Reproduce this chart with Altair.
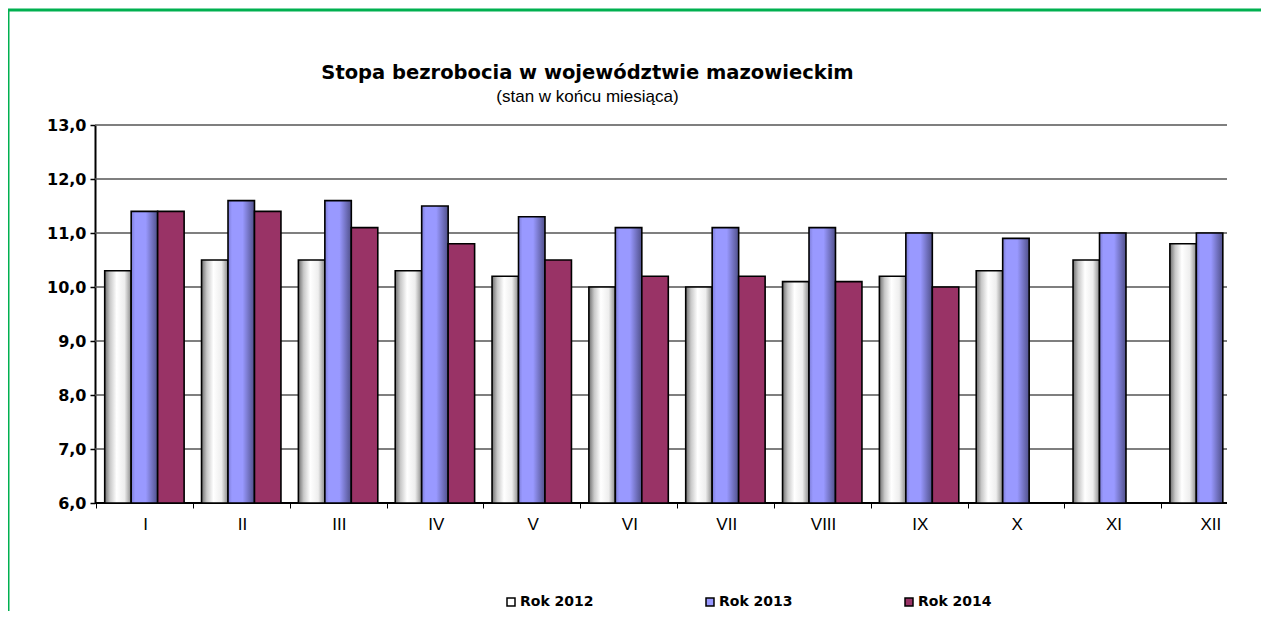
import altair as alt
import pandas as pd

months = ["I", "II", "III", "IV", "V", "VI", "VII", "VIII", "IX", "X", "XI", "XII"]
years = ["Rok 2012", "Rok 2013", "Rok 2014"]
rate_2012 = [10.3, 10.5, 10.5, 10.3, 10.2, 10.0, 10.0, 10.1, 10.2, 10.3, 10.5, 10.8]
rate_2013 = [11.4, 11.6, 11.6, 11.5, 11.3, 11.1, 11.1, 11.1, 11.0, 10.9, 11.0, 11.0]
rate_2014 = [11.4, 11.4, 11.1, 10.8, 10.5, 10.2, 10.2, 10.1, 10.0]
y_ticks = [6, 7, 8, 9, 10, 11, 12, 13]
title_text = "Stopa bezrobocia w województwie mazowieckim"
subtitle_text = "(stan w końcu miesiąca)"

rows = []
for yr, vals in zip(years, [rate_2012, rate_2013, rate_2014]):
    for m, v in zip(months, vals):
        rows.append({"month": m, "year": yr, "value": v})
df = pd.DataFrame(rows)
ticks_df = pd.DataFrame({"tick": y_ticks})

grad12 = {"gradient": "linear", "x1": 0, "y1": 0, "x2": 1, "y2": 0,
          "stops": [{"offset": 0, "color": "#6e6e6e"},
                    {"offset": 0.2, "color": "#c8c8c8"},
                    {"offset": 0.45, "color": "#ffffff"},
                    {"offset": 0.75, "color": "#eeeeee"},
                    {"offset": 1, "color": "#8a8a8a"}]}
grad13 = {"gradient": "linear", "x1": 0, "y1": 0, "x2": 1, "y2": 0,
          "stops": [{"offset": 0, "color": "#7c7cd6"},
                    {"offset": 0.15, "color": "#9999ff"},
                    {"offset": 0.55, "color": "#9999ff"},
                    {"offset": 1, "color": "#50508a"}]}

y_scale = alt.Scale(domain=[6, 13], zero=False, nice=False)

border = alt.Chart(pd.DataFrame({"k": [0]})).mark_rect(
    fill="transparent", stroke="#00b050", strokeWidth=3
).encode(
    x=alt.value(-87), x2=alt.value(1400), y=alt.value(-115), y2=alt.value(700)
)

grid = alt.Chart(ticks_df).mark_rule().encode(
    y=alt.Y("tick:Q", scale=y_scale),
    x=alt.value(0),
    x2=alt.value(1132),
    color=alt.condition("datum.tick === 6", alt.value("black"), alt.value("#555555")),
    strokeWidth=alt.condition("datum.tick === 6", alt.value(2), alt.value(1.5)),
)

bars = alt.Chart(df).mark_bar(stroke="black", strokeWidth=1.6).encode(
    x=alt.X("month:N", sort=months,
            scale=alt.Scale(domain=months, range=[1, 1163], paddingInner=0.18, paddingOuter=0.09),
            axis=alt.Axis(title=None, domain=False, ticks=True, tickColor="black", tickSize=5,
                          tickWidth=1, bandPosition=0, tickOffset=-8.7, labelOffset=9.5,
                          labelFont="Liberation Sans", labelFontSize=17, labelColor="black",
                          labelPadding=8, grid=False, labelAngle=0)),
    xOffset=alt.XOffset("year:N", scale=alt.Scale(domain=years, paddingInner=0, paddingOuter=0)),
    y=alt.Y("value:Q", scale=y_scale,
            axis=alt.Axis(title=None, values=y_ticks,
                          labelExpr="replace(format(datum.value, '.1f'), '.', ',')",
                          domainColor="black", domainWidth=2, tickColor="black", tickSize=5,
                          tickWidth=1.5, labelFont="DejaVu Sans", labelFontWeight="bold",
                          labelFontSize=16, labelColor="black", labelPadding=4, grid=False)),
    y2=alt.datum(6),
    color=alt.Color("year:N",
                    scale=alt.Scale(domain=years, range=["#ffffff", "#9999ff", "#993366"]),
                    legend=alt.Legend(orient="none", legendX=409, legendY=470,
                                      direction="horizontal", title=None, symbolType="square",
                                      symbolSize=64, symbolStrokeColor="black",
                                      symbolStrokeWidth=1.5, labelFont="DejaVu Sans",
                                      labelFontWeight="bold", labelFontSize=14,
                                      labelColor="black", labelOffset=2, columnPadding=109,
                                      padding=0),
                    condition=[{"test": "datum.year === 'Rok 2012'", "value": grad12},
                               {"test": "datum.year === 'Rok 2013'", "value": grad13}]),
)

chart = alt.layer(border, grid, bars).properties(
    width=1131, height=378,
    title=alt.TitleParams(text=title_text, subtitle=subtitle_text, font="DejaVu Sans",
                          fontSize=19.5, fontWeight="bold", color="black",
                          subtitleFont="Liberation Sans", subtitleFontSize=17,
                          subtitleColor="black", subtitlePadding=5, anchor="middle",
                          dx=-73, dy=117, offset=20),
    autosize=alt.AutoSizeParams(type="none"),
    padding={"left": 87, "top": 117, "right": 35, "bottom": 108},
    background="white",
).configure_view(strokeWidth=0)

chart.save("out.html", embed_options={"renderer": "svg", "actions": False})
